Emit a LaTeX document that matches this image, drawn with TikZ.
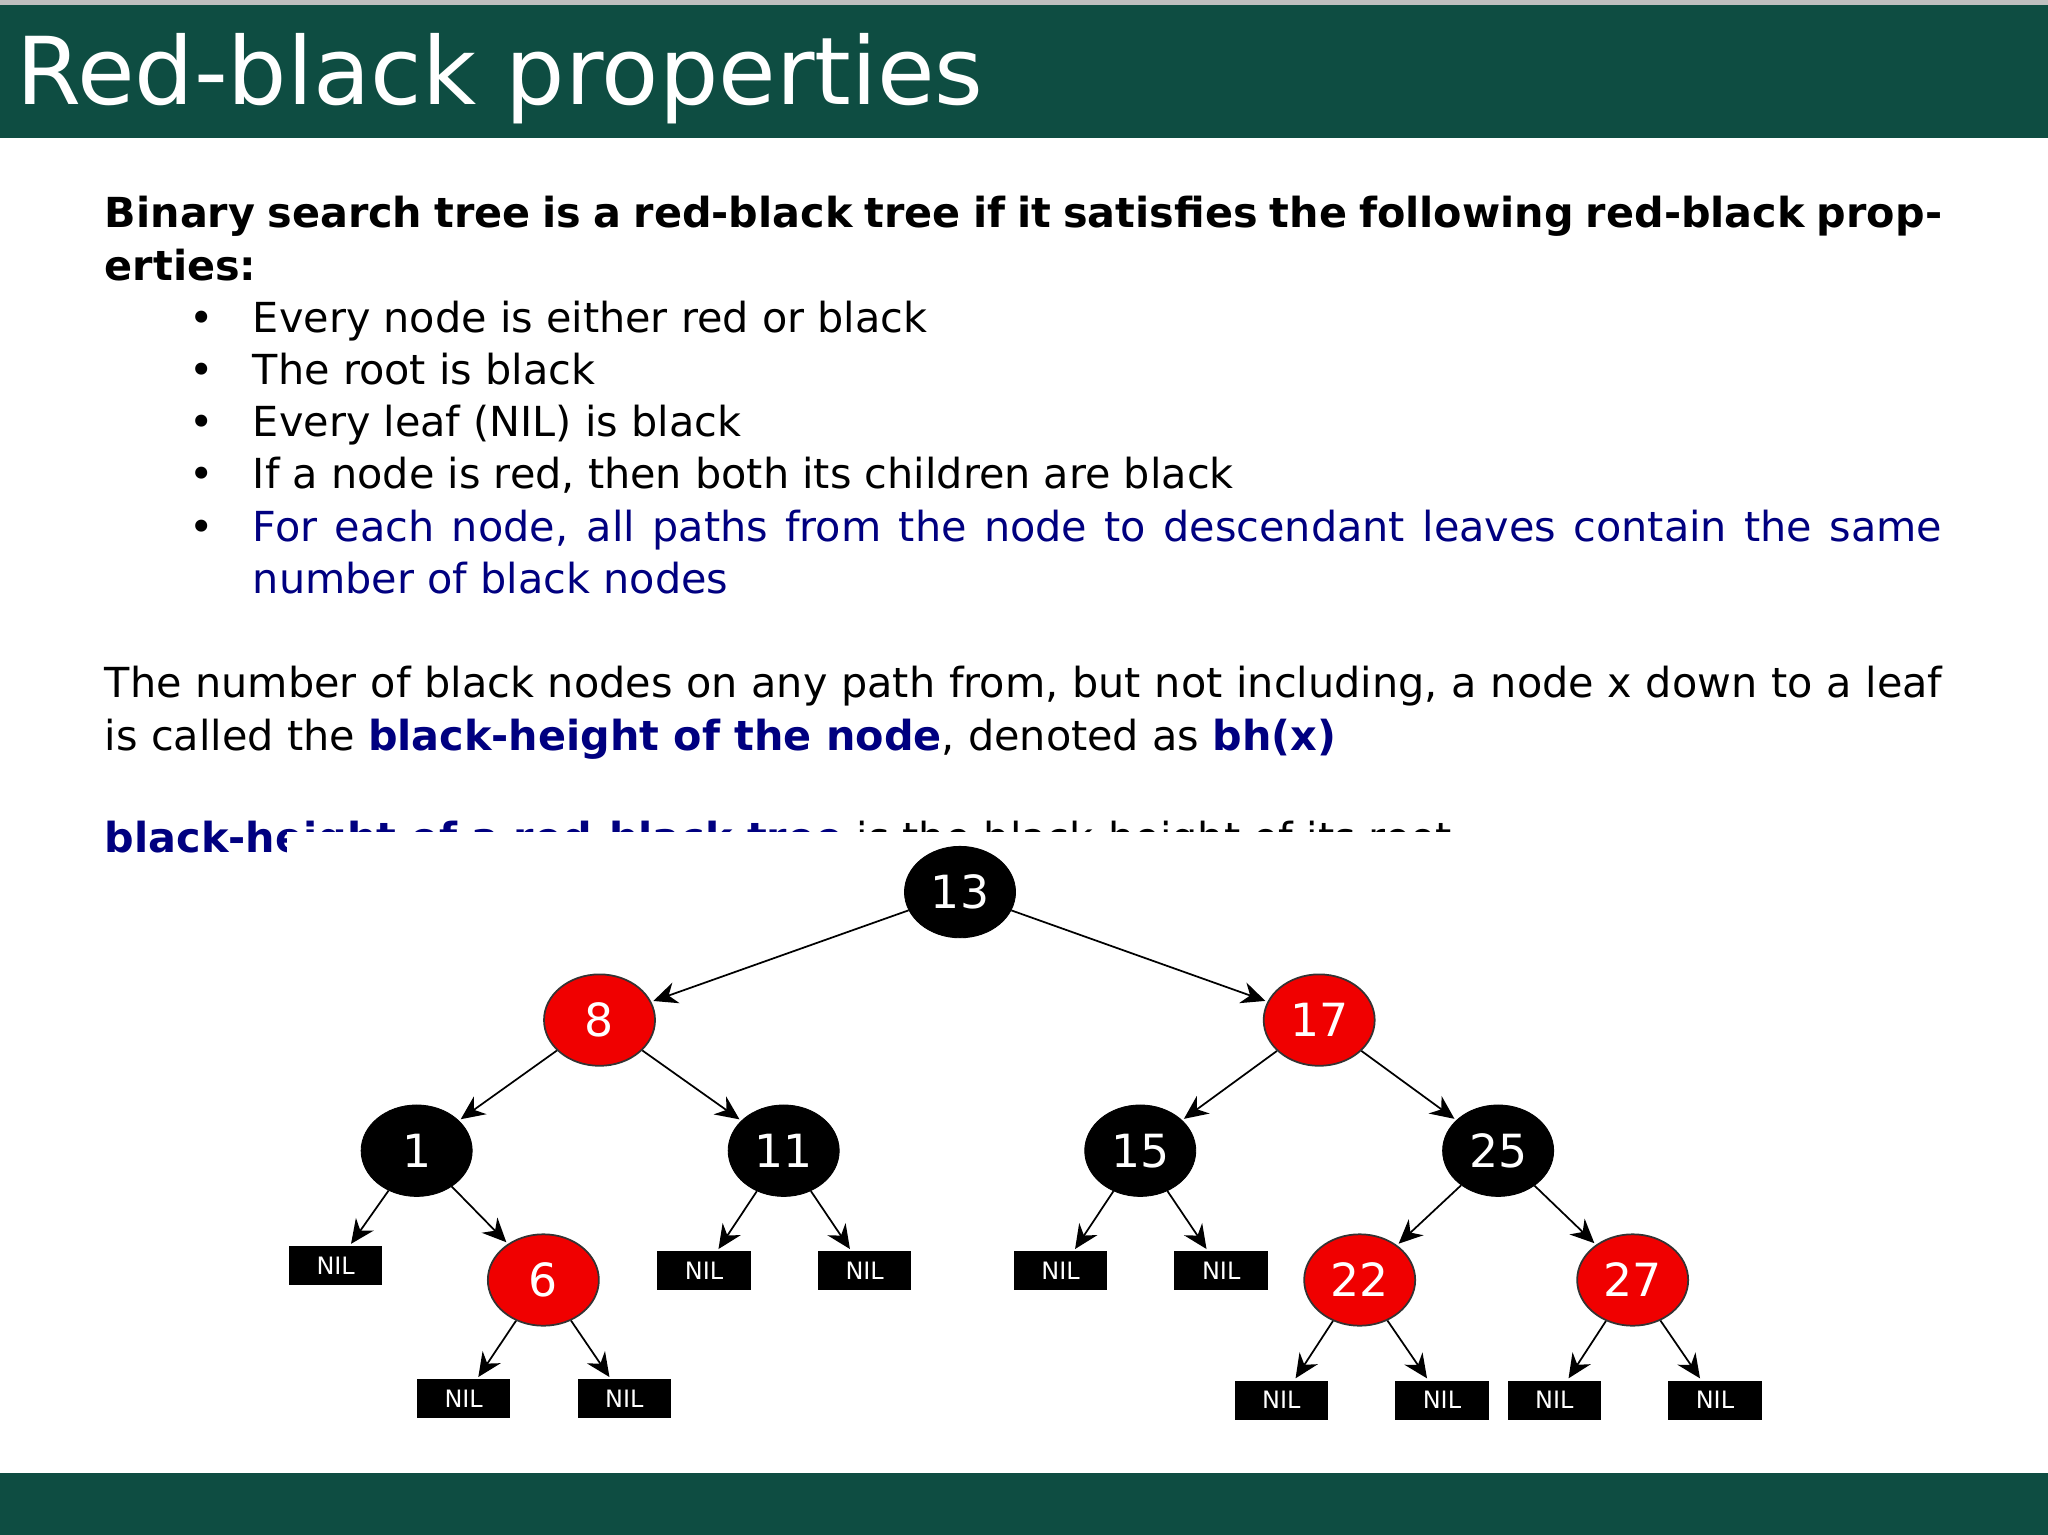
\documentclass[tikz,border=0pt]{standalone}
\usepackage{fontspec}
\setmainfont{DejaVu Sans}
\usetikzlibrary{arrows.meta,shapes.geometric}
\definecolor{hdr}{HTML}{0E4D42}
\definecolor{navy}{HTML}{000080}
\definecolor{rbred}{HTML}{F00000}
\begin{document}
\begin{tikzpicture}[x=0.6pt,y=-0.6pt,
 bn/.style={ellipse,fill=black,draw=black,minimum width=51pt,minimum height=42pt,inner sep=0pt,text=white,font=\fontsize{21}{21}\selectfont},
 rn/.style={bn,fill=rbred,draw=black!80,line width=0.8pt},
 nil/.style={rectangle,fill=black,text=white,minimum width=43pt,minimum height=18pt,inner sep=0pt,font=\fontsize{11}{11}\selectfont},
 ed/.style={-{Stealth[length=11pt,width=10pt]},line width=0.8pt,shorten >=1pt}]
\useasboundingbox (0,0) rectangle (1568,1175);
\fill[white] (0,0) rectangle (1568,1175);
\fill[hdr] (0,4) rectangle (1568,106);
\fill[black!25] (0,0) rectangle (1568,4);
\fill[hdr] (0,1128) rectangle (1568,1175);
\node[anchor=base west,inner sep=0pt,text=white,font=\fontsize{43}{43}\selectfont] (title) at (12,80) {Red-black properties};
\node[anchor=north west,inner sep=0pt,text width=844pt,align=justify,font=\fontsize{19}{24}\selectfont] (body) at (80,150) {%
\textbf{Binary search tree is a red-black tree if it satisfies the following red-black properties:}\par
\leftskip=68pt
\makebox[0pt][r]{\textbullet\hspace{18pt}}Every node is either red or black\par
\makebox[0pt][r]{\textbullet\hspace{18pt}}The root is black\par
\makebox[0pt][r]{\textbullet\hspace{18pt}}Every leaf (NIL) is black\par
\makebox[0pt][r]{\textbullet\hspace{18pt}}If a node is red, then both its children are black\par
\makebox[0pt][r]{\textbullet\hspace{18pt}}\textcolor{navy}{For each node, all paths from the node to descendant leaves contain the same number of black nodes}\par
\leftskip=0pt
\vspace{24pt}
The number of black nodes on any path from, but not including, a node x down to a leaf is called the \textbf{\textcolor{navy}{black-height of the node}}, denoted as \textbf{\textcolor{navy}{bh(x)}}\par
\vspace{23pt}
\textbf{\textcolor{navy}{black-height of a red-black tree}} is the black-height of its root\par};
\fill[white] (220,637) rectangle (1568,1127);
\node[bn] (n13) at (735,683) {13};
\node[rn] (n8) at (459,781) {8};
\node[rn] (n17) at (1010,781) {17};
\node[bn] (n1) at (319,881) {1};
\node[bn] (n11) at (600,881) {11};
\node[bn] (n15) at (873,881) {15};
\node[bn] (n25) at (1147,881) {25};
\node[rn] (n6) at (416,980) {6};
\node[rn] (n22) at (1041,980) {22};
\node[rn] (n27) at (1250,980) {27};
\node[nil] (a) at (257,969) {NIL};
\node[nil] (b) at (539,973) {NIL};
\node[nil] (c) at (662,973) {NIL};
\node[nil] (d) at (812,973) {NIL};
\node[nil] (e) at (935,973) {NIL};
\node[nil] (f) at (355,1071) {NIL};
\node[nil] (g) at (478,1071) {NIL};
\node[nil] (h) at (981,1072) {NIL};
\node[nil] (i) at (1104,1072) {NIL};
\node[nil] (j) at (1190,1072) {NIL};
\node[nil] (k) at (1313,1072) {NIL};
\foreach \p/\c in {n13/n8,n13/n17,n8/n1,n8/n11,n17/n15,n17/n25,n1/a,n1/n6,n11/b,n11/c,n15/d,n15/e,n25/n22,n25/n27,n6/f,n6/g,n22/h,n22/i,n27/j,n27/k}
 \draw[ed] (\p) -- (\c);
\end{tikzpicture}
\end{document}
